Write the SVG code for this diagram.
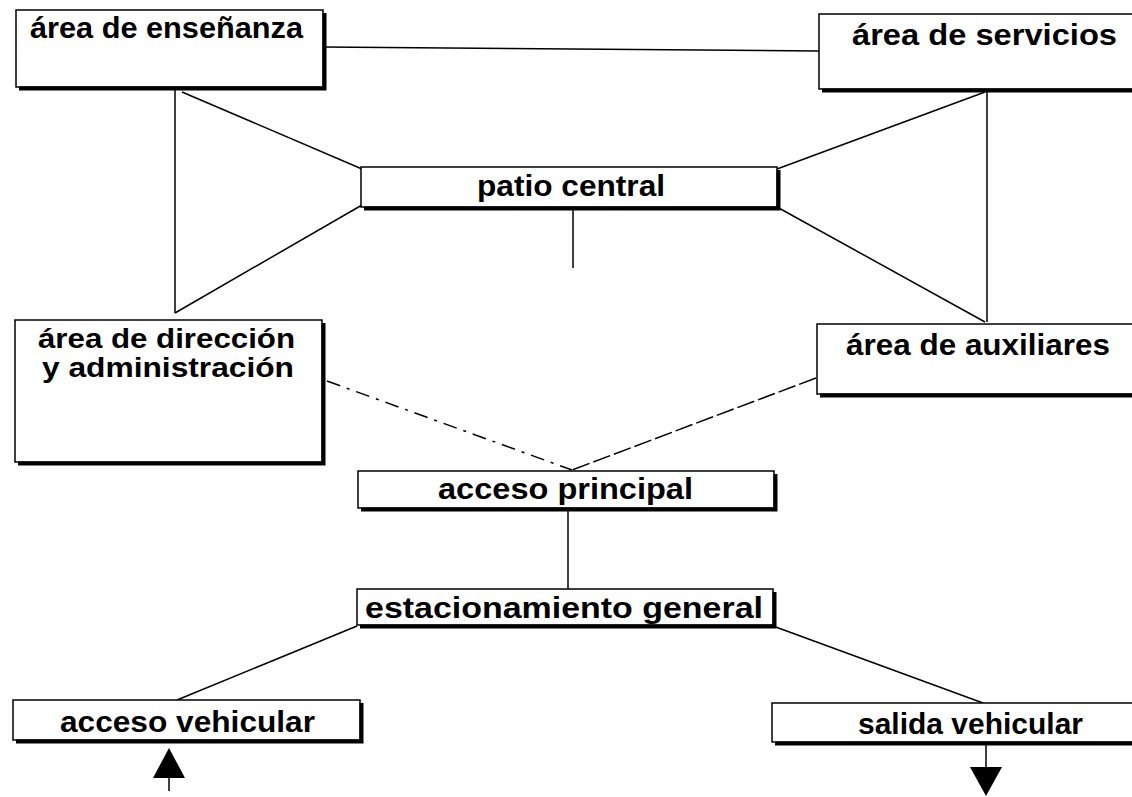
<svg xmlns="http://www.w3.org/2000/svg" width="1132" height="797" viewBox="0 0 1132 797">
<style>
.box{fill:#fff;stroke:#000;stroke-width:1.5}
.sh{fill:none;stroke:#000;stroke-width:4}
.t{font-family:"Liberation Sans",Arial,sans-serif;font-weight:bold;font-size:30px;fill:#000}
.s{font-size:28px}
.c{fill:none;stroke:#000;stroke-width:1.5}
</style>
<rect width="1132" height="797" fill="#fff"/>
<g id="connectors">
<line class="c" x1="323" y1="47" x2="819" y2="51"/>
<line class="c" x1="175" y1="90" x2="175" y2="313"/>
<line class="c" x1="182" y1="92" x2="362" y2="169"/>
<line class="c" x1="362" y1="205" x2="175" y2="313"/>
<line class="c" x1="987" y1="92" x2="987" y2="322"/>
<line class="c" x1="985" y1="92" x2="777" y2="169"/>
<line class="c" x1="777" y1="207" x2="985" y2="322"/>
<line class="c" x1="573" y1="210" x2="573" y2="268"/>
<line class="c" x1="327" y1="381" x2="572" y2="470" stroke-dasharray="14 7 3 7"/>
<line class="c" x1="816" y1="378" x2="572" y2="470" stroke-dasharray="18 4"/>
<line class="c" x1="568" y1="508" x2="568" y2="589"/>
<line class="c" x1="357" y1="626" x2="177" y2="700"/>
<line class="c" x1="773" y1="626" x2="983" y2="703"/>
<line class="c" x1="169" y1="778" x2="169" y2="791"/>
<polygon points="169,748 153,778 185,778" fill="#000"/>
<line class="c" x1="986" y1="745" x2="986" y2="767"/>
<polygon points="970,767 1002,767 986,796" fill="#000"/>
</g>
<g id="n-ensenanza">
<rect class="box" x="16" y="10" width="307" height="77"/>
<path class="sh" d="M19,88.5 H324.5 V13"/>
<text class="t" x="30" y="38" textLength="273" lengthAdjust="spacingAndGlyphs">área de enseñanza</text>
</g>
<g id="n-servicios">
<rect class="box" x="819" y="14" width="330" height="75"/>
<path class="sh" d="M822,90.5 H1150"/>
<text class="t" x="852" y="45" textLength="265" lengthAdjust="spacingAndGlyphs">área de servicios</text>
</g>
<g id="n-patio">
<rect class="box" x="361" y="167" width="416" height="40"/>
<path class="sh" d="M364,208.5 H778.5 V170"/>
<text class="t" x="477" y="196" textLength="188" lengthAdjust="spacingAndGlyphs">patio central</text>
</g>
<g id="n-direccion">
<rect class="box" x="15" y="320" width="307" height="142"/>
<path class="sh" d="M18,463.5 H323.5 V323"/>
<text class="t s" x="38" y="348" textLength="257" lengthAdjust="spacingAndGlyphs">área de dirección</text>
<text class="t s" x="42" y="377" textLength="252" lengthAdjust="spacingAndGlyphs">y administración</text>
</g>
<g id="n-auxiliares">
<rect class="box" x="817" y="324" width="330" height="70"/>
<path class="sh" d="M820,395.5 H1150"/>
<text class="t" x="846" y="355" textLength="264" lengthAdjust="spacingAndGlyphs">área de auxiliares</text>
</g>
<g id="n-acceso-principal">
<rect class="box" x="358" y="471" width="416" height="37"/>
<path class="sh" d="M361,509.5 H775.5 V474"/>
<text class="t" x="438" y="499" textLength="255" lengthAdjust="spacingAndGlyphs">acceso principal</text>
</g>
<g id="n-estacionamiento">
<rect class="box" x="357" y="589" width="416" height="36"/>
<path class="sh" d="M360,626.5 H774.5 V592"/>
<text class="t" x="365" y="618" textLength="398" lengthAdjust="spacingAndGlyphs">estacionamiento general</text>
</g>
<g id="n-acceso-vehicular">
<rect class="box" x="13" y="700" width="347" height="40"/>
<path class="sh" d="M16,741.5 H361.5 V703"/>
<text class="t" x="60" y="732" textLength="255" lengthAdjust="spacingAndGlyphs">acceso vehicular</text>
</g>
<g id="n-salida-vehicular">
<rect class="box" x="772" y="703" width="380" height="39"/>
<path class="sh" d="M775,743.5 H1150"/>
<text class="t" x="858" y="734" textLength="225" lengthAdjust="spacingAndGlyphs">salida vehicular</text>
</g>
</svg>
